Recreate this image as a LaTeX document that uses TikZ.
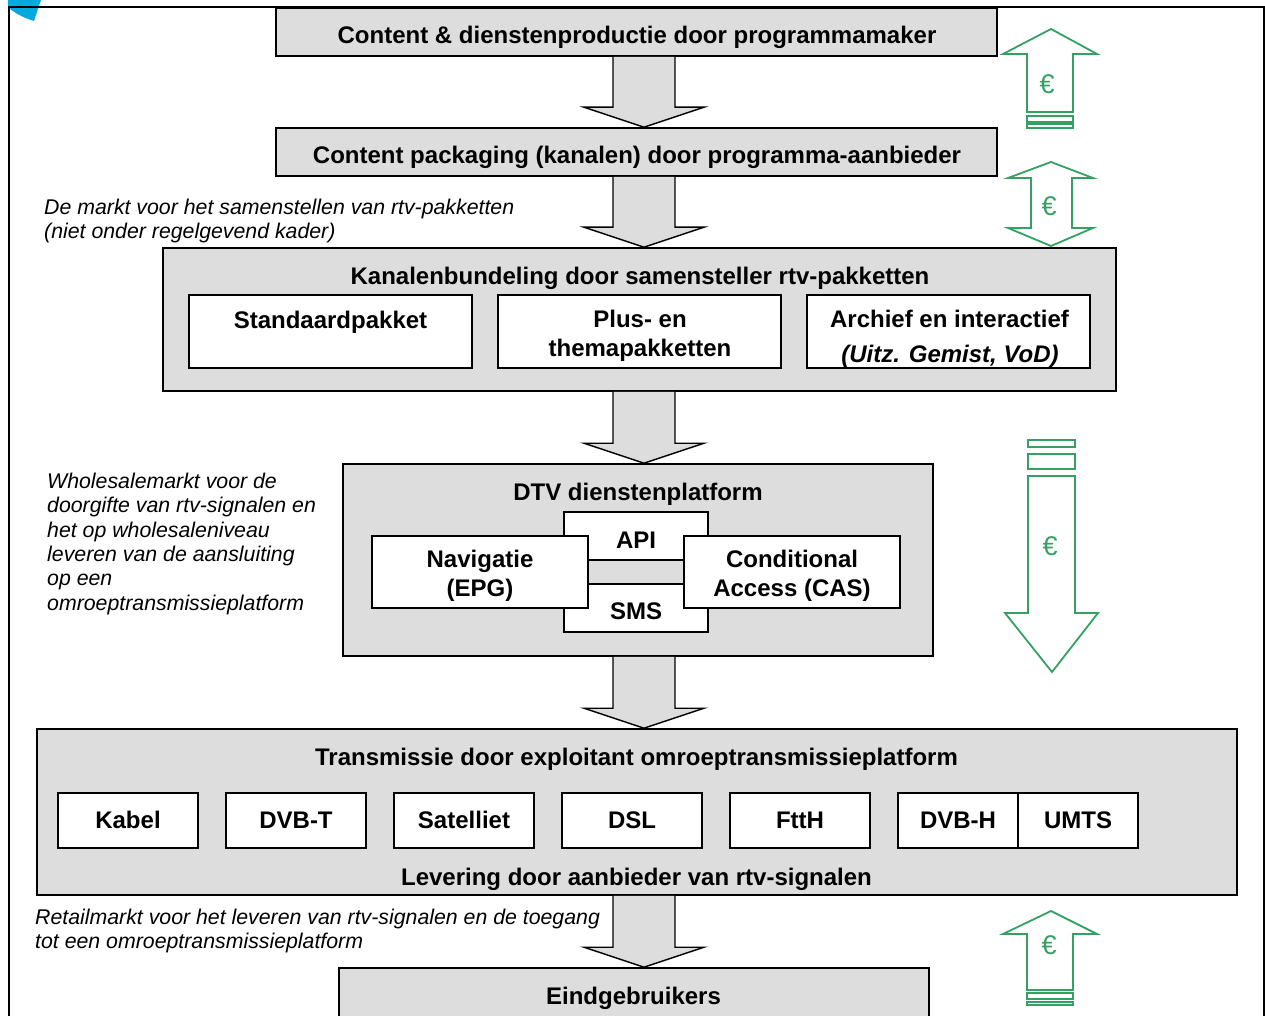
\documentclass[tikz,border=0pt]{standalone}
\usepackage{fontspec}
\setmainfont{Liberation Sans}
\usetikzlibrary{positioning}
\usetikzlibrary{calc}
\definecolor{boxgray}{RGB}{221,221,221}
\definecolor{eurogreen}{RGB}{52,160,98}
\definecolor{logoblue}{RGB}{0,170,222}
\tikzstyle{graybox}=[draw=black,line width=1.6pt,fill=boxgray,inner sep=0pt]
\tikzstyle{whitebox}=[draw=black,line width=1.6pt,fill=white,inner sep=0pt]
\tikzstyle{blabel}=[anchor=base,inner sep=0pt,font=\fontsize{24}{28}\selectfont\bfseries]
\tikzstyle{note}=[anchor=base west,inner sep=0pt,font=\fontsize{21.3}{24}\selectfont\itshape]
\tikzstyle{grayarrow}=[draw=black,line width=1.4pt,line join=miter]
\tikzstyle{euroarrow}=[draw=eurogreen,line width=1.8pt,line join=miter]
\tikzstyle{euro}=[text=eurogreen,inner sep=0pt,font=\fontsize{27}{27}\selectfont]
% block arrow from the bottom of #1 to the top of #2
\newcommand{\flowarrow}[2]{%
	\coordinate (fs) at (#1.south -| axis);
	\coordinate (ft) at (#2.north -| axis);
	\fill[boxgray] ($(fs)+(-31,0)$) -- ($(ft)+(-31,-20)$) -- ($(ft)+(-60,-20)$) -- (ft) -- ($(ft)+(60,-20)$) -- ($(ft)+(31,-20)$) -- ($(fs)+(31,0)$) -- cycle;
	\draw[grayarrow] ($(fs)+(-31,0)$) -- ($(ft)+(-31,-20)$) -- ($(ft)+(-60,-20)$) -- (ft) -- ($(ft)+(60,-20)$) -- ($(ft)+(31,-20)$) -- ($(fs)+(31,0)$);
}
\begin{document}
\begin{tikzpicture}[x=1pt,y=-1pt]
	\useasboundingbox (0,0) rectangle (1265,1016);
	\clip (0,0) rectangle (1265,1016);
	\coordinate (axis) at (644,0);

	% Frame
	\fill[logoblue] (8,0) -- (41,0) -- (34,21) .. controls (24,18) and (14,13) .. (8,7) -- cycle;
	\draw[line width=2pt] (8.5,1030) -- (8.5,7) -- (1264,7) -- (1264,1030);

	% Programmamaker and aanbieder
	\node[graybox,minimum width=721pt,minimum height=48pt] (prod) at (636.5,32) {};
	\node[blabel] (prodlabel) at (637,44) {Content \& dienstenproductie door programmamaker};
	\node[graybox,minimum width=721pt,minimum height=48pt] (pack) at (636.5,152) {};
	\node[blabel] (packlabel) at (637,164) {Content packaging (kanalen) door programma-aanbieder};
	\flowarrow{prod}{pack}

	% Kanalenbundeling
	\node[note] (note1a) at (44,215) {De markt voor het samenstellen van rtv-pakketten};
	\node[note] (note1b) at (44,239) {(niet onder regelgevend kader)};
	\node[graybox,minimum width=953pt,minimum height=143pt] (bundle) at (639.5,319.5) {};
	\node[blabel] (bundlelabel) at (640,284) {Kanalenbundeling door samensteller rtv-pakketten};
	\node[whitebox,minimum width=283pt,minimum height=73pt] (std) at (330.5,331.5) {};
	\node[whitebox,minimum width=283pt,minimum height=73pt] (plus) at (639.5,331.5) {};
	\node[whitebox,minimum width=283pt,minimum height=73pt] (arch) at (948.5,331.5) {};
	\node[blabel] (stdlabel) at (330.5,328) {Standaardpakket};
	\node[blabel] (pluslabela) at (640,327) {Plus- en};
	\node[blabel] (pluslabelb) at (640,356) {themapakketten};
	\node[blabel] (archlabela) at (949.5,327) {Archief en interactief};
	\node[blabel] (archlabelb) at (950,362) {\itshape (Uitz. Gemist, VoD)};
	\flowarrow{pack}{bundle}

	% DTV dienstenplatform
	\node[note] (note2a) at (47,488) {Wholesalemarkt voor de};
	\node[note] (note2b) at (47,512) {doorgifte van rtv-signalen en};
	\node[note] (note2c) at (47,537) {het op wholesaleniveau};
	\node[note] (note2d) at (47,561) {leveren van de aansluiting};
	\node[note] (note2e) at (47,585) {op een};
	\node[note] (note2f) at (47,610) {omroeptransmissieplatform};
	\node[graybox,minimum width=590pt,minimum height=192pt] (dtv) at (638,560) {};
	\node[blabel] (dtvlabel) at (638,500) {DTV dienstenplatform};
	\node[whitebox,minimum width=144pt,minimum height=48pt] (api) at (636,536) {};
	\node[whitebox,minimum width=144pt,minimum height=48pt] (sms) at (636,608) {};
	\node[whitebox,minimum width=216pt,minimum height=72pt] (nav) at (480,572) {};
	\node[whitebox,minimum width=216pt,minimum height=72pt] (cas) at (792,572) {};
	\node[blabel] (apilabel) at (636,548) {API};
	\node[blabel] (smslabel) at (636,619) {SMS};
	\node[blabel] (navlabela) at (480,567) {Navigatie};
	\node[blabel] (navlabelb) at (480,596) {(EPG)};
	\node[blabel] (caslabela) at (792,567) {Conditional};
	\node[blabel] (caslabelb) at (792,596) {Access (CAS)};
	\flowarrow{bundle}{dtv}

	% Transmissie
	\node[graybox,minimum width=1200pt,minimum height=166pt] (trans) at (637,812) {};
	\node[blabel] (translabel) at (636.5,765) {Transmissie door exploitant omroeptransmissieplatform};
	\node[blabel] (levlabel) at (636.5,885) {Levering door aanbieder van rtv-signalen};
	\foreach \name/\x/\w/\txt in {kabel/128/140/Kabel, dvbt/296/140/DVB-T, sat/464/140/Satelliet, dsl/632/140/DSL, ftth/800/140/FttH, dvbh/958/120/DVB-H, umts/1078/120/UMTS}{
		\node[whitebox,minimum width=\w pt,minimum height=55pt] (\name) at (\x,820.5) {};
		\node[blabel] (\name label) at (\x,828) {\txt};
	}
	\flowarrow{dtv}{trans}

	% Eindgebruikers
	\node[note] (note3a) at (35,924) {Retailmarkt voor het leveren van rtv-signalen en de toegang};
	\node[note] (note3b) at (35,948) {tot een omroeptransmissieplatform};
	\node[graybox,minimum width=590pt,minimum height=72pt] (eind) at (634,1004) {};
	\node[blabel] (eindlabel) at (633.5,1004) {Eindgebruikers};
	\flowarrow{trans}{eind}

	% Geldstromen
	\draw[euroarrow] (1027,112) -- (1027,54) -- (1003,54) -- (1051,29) -- (1097,54) -- (1073,54) -- (1073,112) -- cycle;
	\draw[euroarrow] (1027,116) rectangle (1073,122);
	\draw[euroarrow] (1027,124) rectangle (1073,128);
	\node[euro] (euro1) at (1047,84) {€};
	\draw[euroarrow] (1051,162) -- (1093,178) -- (1072,178) -- (1072,228) -- (1093,228) -- (1051,246) -- (1008,228) -- (1031,228) -- (1031,178) -- (1008,178) -- cycle;
	\node[euro] (euro2) at (1049,206) {€};
	\draw[euroarrow] (1028,440) rectangle (1075,447);
	\draw[euroarrow] (1028,454) rectangle (1075,469);
	\draw[euroarrow] (1028,476) -- (1075,476) -- (1075,613) -- (1098,613) -- (1052,672) -- (1005,613) -- (1028,613) -- cycle;
	\node[euro] (euro3) at (1050,546) {€};
	\draw[euroarrow] (1027,990) -- (1027,934) -- (1003,934) -- (1051,911) -- (1097,934) -- (1073,934) -- (1073,990) -- cycle;
	\draw[euroarrow] (1027,993) rectangle (1073,999);
	\draw[euroarrow] (1027,1002) rectangle (1073,1005);
	\node[euro] (euro4) at (1049,945) {€};
\end{tikzpicture}
\end{document}
